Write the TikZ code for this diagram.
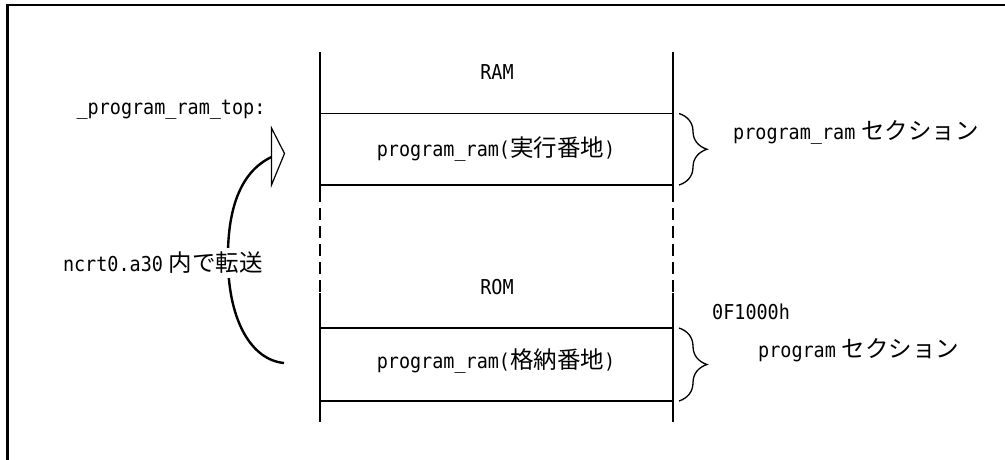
\documentclass[tikz,border=0pt]{standalone}
\usepackage{fontspec}
\setmainfont{DejaVu Sans Mono}[FakeStretch=0.9]
\newfontfamily\jpfont{Noto Sans CJK JP}
\usetikzlibrary{decorations.pathreplacing}
\tikzset{
  lbl/.style={inner sep=0pt, font=\fontsize{20.5}{22}\selectfont},
  wall/.style={line width=1.4pt},
  divider/.style={line width=1.9pt},
  sbrace/.style={line width=1.3pt, decorate, decoration={brace, amplitude=28pt}},
}
\newcommand{\jt}[1]{{\jpfont\fontsize{23.5}{24}\selectfont #1}}
\begin{document}
\begin{tikzpicture}[x=1pt,y=-1pt]
\useasboundingbox (0,0) rectangle (1005,459);
% frame
\draw[line width=2.2pt] (7.5,460) -- (7.5,5) -- (1006,5);
% column walls
\coordinate (lt) at (320,52);
\coordinate (ld1) at (320,190);
\coordinate (ld2) at (320,293);
\coordinate (lb) at (320,422);
\coordinate (rt) at (673,52);
\coordinate (rd1) at (673,190);
\coordinate (rd2) at (673,293);
\coordinate (rb) at (673,422);
\draw[wall] (lt) -- (ld1);
\draw[wall, dash pattern=on 12pt off 6pt] (ld1) -- (ld2);
\draw[wall] (ld2) -- (lb);
\draw[wall] (rt) -- (rd1);
\draw[wall, dash pattern=on 12pt off 6pt] (rd1) -- (rd2);
\draw[wall] (rd2) -- (rb);
% dividers
\coordinate (a1) at (320,113.5); \coordinate (b1) at (673,113.5);
\coordinate (a2) at (320,185);   \coordinate (b2) at (673,185);
\coordinate (a3) at (320,328);   \coordinate (b3) at (673,328);
\coordinate (a4) at (320,401);   \coordinate (b4) at (673,401);
\draw[divider] (a1) -- (b1);
\draw[divider] (a2) -- (b2);
\draw[divider] (a3) -- (b3);
\draw[divider] (a4) -- (b4);
% texts in columns
\node[lbl] (ram) at (497,72) {RAM};
\node[lbl] (exec) at (496,149) {program\_ram(\jt{実行番地})};
\node[lbl] (rom) at (497,287) {ROM};
\node[lbl] (store) at (496,361) {program\_ram(\jt{格納番地})};
% braces
\coordinate (br1t) at (679,113.5); \coordinate (br1b) at (679,185);
\coordinate (br2t) at (679,328);   \coordinate (br2b) at (679,401);
\draw[sbrace] (br1t) -- (br1b);
\draw[sbrace] (br2t) -- (br2b);
\node[lbl, anchor=west] (sec1) at (733,132) {program\_ram\hspace{6pt}\jt{セクション}};
\node[lbl, anchor=west] (addr) at (712,312) {0F1000h};
\node[lbl, anchor=west] (sec2) at (758,350) {program\hspace{6pt}\jt{セクション}};
% left labels
\node[lbl] (top) at (171,110) {\_program\_ram\_top:};
% transfer arrow
\coordinate (cs) at (284,363);
\coordinate (ce) at (271.5,157);
\draw[line width=2.4pt] (cs) .. controls (252,360) and (229,322) .. (228,262)
   .. controls (227,210) and (240,172) .. (ce);
\draw[line width=1.2pt, fill=white, line join=miter]
   (271.5,128) -- (284.5,153.5) -- (271.5,185) -- cycle;
\node[lbl, fill=white, inner ysep=4pt, inner xsep=1pt] (xfer) at (163,263) {ncrt0.a30\hspace{6pt}\jt{内で転送}};
\end{tikzpicture}
\end{document}
